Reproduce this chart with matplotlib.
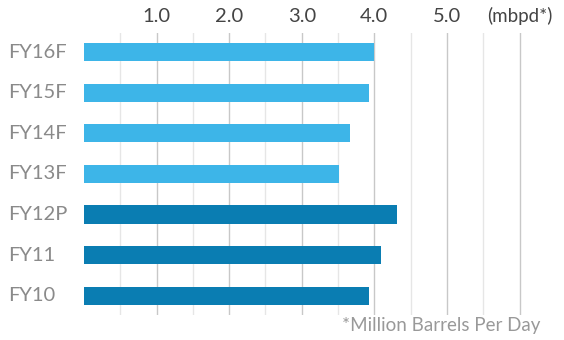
import matplotlib.pyplot as plt

# production, million barrels per day (bottom to top)
years = ['FY10', 'FY11', 'FY12P', 'FY13F', 'FY14F', 'FY15F', 'FY16F']
values = [3.92, 4.09, 4.31, 3.51, 3.66, 3.92, 4.0]
forecast = [False, False, False, True, True, True, True]
ticks = [1.0, 2.0, 3.0, 4.0, 5.0]

light = '#3db5e8'
dark = '#0a7db2'

plt.rcParams['font.family'] = ['Lato', 'DejaVu Sans']

fig = plt.figure(figsize=(5.64, 3.4), dpi=100)
ax = fig.add_axes([0.149, 0.074, 0.785, 0.829])

colors = [light if f else dark for f in forecast]
ax.barh(range(len(years)), values, height=0.45, color=colors, zorder=3)

ax.set_xlim(0, 6.1)
ax.set_ylim(-0.47, len(years) - 0.53)

# grid lines: darker every 1.0, lighter every 0.5
for k in range(1, 13):
    x = k * 0.5
    ax.axvline(x, color='#c8c8c8' if k % 2 == 0 else '#e6e6e6', lw=1.0, zorder=1)

for s in ax.spines.values():
    s.set_visible(False)
ax.tick_params(which='both', bottom=False, left=False,
               labelbottom=False, labelleft=False)
ax.set_xticks([])
ax.set_yticks([])
ax.minorticks_off()

for t in ticks:
    ax.text(t, 1.03, '%.1f' % t, transform=ax.get_xaxis_transform(),
            ha='center', va='bottom', fontsize=14.5, color='#444444')
ax.text(6.0, 1.03, '(mbpd*)', transform=ax.get_xaxis_transform(),
        ha='center', va='bottom', fontsize=13.5, color='#444444')

for i, y in enumerate(years):
    fig.text(8 / 564, ax.transData.transform((0, i))[1] / 340, y,
             ha='left', va='center', fontsize=14.5, color='#8a8a8a')

fig.text(540 / 564, 14 / 340, '*Million Barrels Per Day', ha='right', va='center',
         fontsize=13.5, color='#999999')

fig.savefig('out.png', dpi=100)
